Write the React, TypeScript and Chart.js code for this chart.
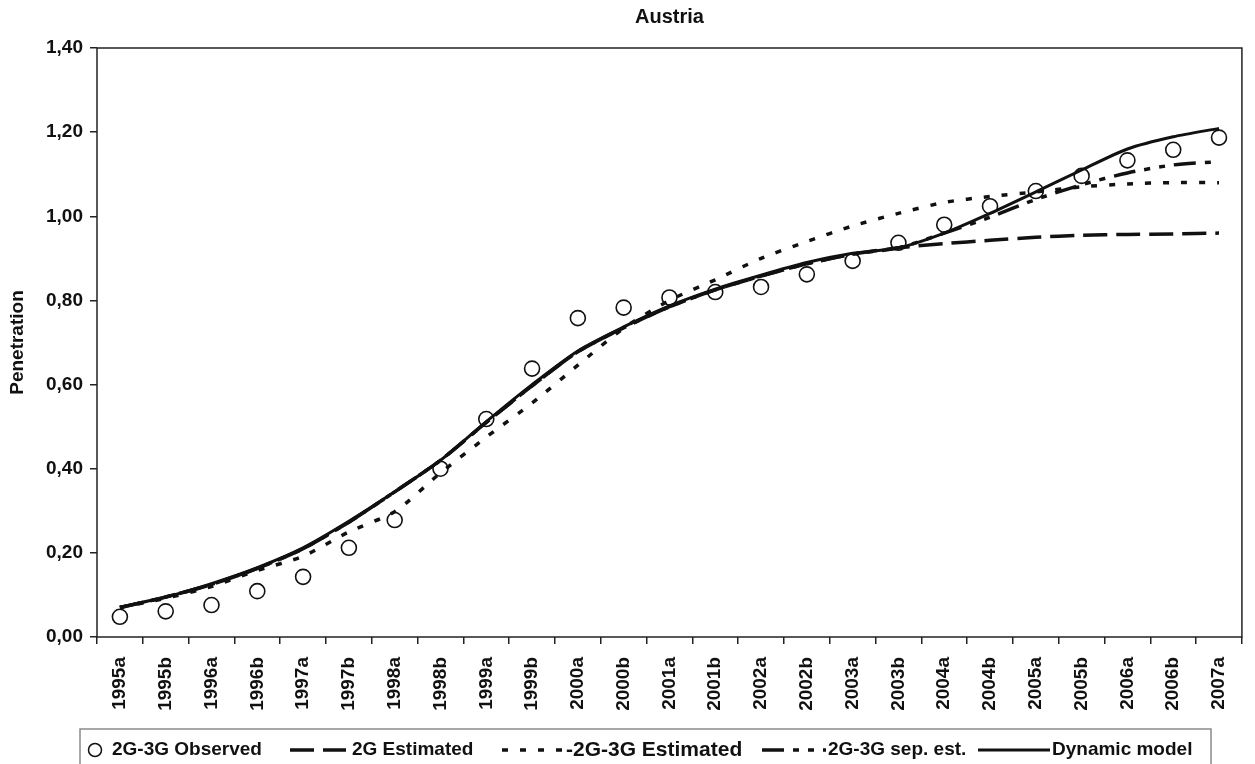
import { useEffect, useRef } from "react";
import { Chart, registerables } from "chart.js";

Chart.register(...registerables);

const categories = [
  "1995a", "1995b", "1996a", "1996b", "1997a", "1997b", "1998a", "1998b",
  "1999a", "1999b", "2000a", "2000b", "2001a", "2001b", "2002a", "2002b",
  "2003a", "2003b", "2004a", "2004b", "2005a", "2005b", "2006a", "2006b", "2007a",
];

const observed = [
  0.048, 0.061, 0.076, 0.109, 0.143, 0.212, 0.278, 0.4, 0.518, 0.638, 0.758, 0.783,
  0.807, 0.82, 0.832, 0.862, 0.894, 0.937, 0.98, 1.024, 1.06, 1.096, 1.133, 1.158, 1.187,
];

const estimated2G = [
  0.07, 0.095, 0.125, 0.163, 0.21, 0.273, 0.345, 0.42, 0.51, 0.597, 0.678, 0.735,
  0.785, 0.825, 0.858, 0.887, 0.91, 0.925, 0.935, 0.943, 0.95, 0.955, 0.957, 0.958, 0.96,
];

const estimated2G3G = [
  0.07, 0.092, 0.12, 0.158, 0.192, 0.25, 0.298, 0.39, 0.475, 0.556, 0.646, 0.734,
  0.8, 0.849, 0.9, 0.94, 0.977, 1.007, 1.033, 1.047, 1.058, 1.07, 1.077, 1.08, 1.08,
];

const sepEstimated = [
  0.07, 0.095, 0.125, 0.163, 0.21, 0.273, 0.345, 0.42, 0.51, 0.597, 0.678, 0.735,
  0.785, 0.825, 0.858, 0.887, 0.91, 0.925, 0.96, 0.998, 1.04, 1.075, 1.103, 1.122, 1.13,
];

const dynamicModel = [
  0.071, 0.095, 0.127, 0.165, 0.212, 0.275, 0.345, 0.42, 0.512, 0.6, 0.68, 0.737,
  0.787, 0.827, 0.86, 0.89, 0.912, 0.925, 0.96, 1.007, 1.058, 1.11, 1.16, 1.189, 1.209,
];

const yTickLabels = ["0,00", "0,20", "0,40", "0,60", "0,80", "1,00", "1,20", "1,40"];

const chartTitle = "Austria";
const yAxisTitle = "Penetration";
const seriesNames = [
  "2G-3G Observed",
  "2G Estimated",
  "-2G-3G Estimated",
  "2G-3G sep. est.",
  "Dynamic model",
];

const FONT = "'Liberation Sans', Arial, Helvetica, sans-serif";
const INK = "#111111";

const DASH_2G = [24, 9];
const DASH_2G3G = [6, 12];
const DASH_SEP = [22, 9, 6, 9, 6, 9];

export default function App() {
  const canvasRef = useRef<HTMLCanvasElement | null>(null);

  useEffect(() => {
    const canvas = canvasRef.current;
    if (!canvas) return;

    const framePlugin = {
      id: "frameAndLegend",
      afterDraw(chart: any) {
        const { ctx, chartArea } = chart;
        const { left, right, top, bottom } = chartArea;
        ctx.save();
        ctx.strokeStyle = "#222";
        ctx.lineWidth = 1.5;
        ctx.setLineDash([]);
        ctx.strokeRect(left, top, right - left, bottom - top);

        ctx.fillStyle = INK;
        ctx.font = `bold 20px ${FONT}`;
        ctx.textAlign = "center";
        ctx.textBaseline = "middle";
        ctx.fillText(chartTitle, (left + right) / 2, 17);

        ctx.strokeStyle = "#8a8a8a";
        ctx.lineWidth = 1.5;
        ctx.strokeRect(80, 729, 1131, 45);

        const cy = 750;
        ctx.textAlign = "left";
        ctx.strokeStyle = INK;
        ctx.fillStyle = INK;

        ctx.lineWidth = 1.5;
        ctx.beginPath();
        ctx.arc(95, cy, 6.5, 0, Math.PI * 2);
        ctx.stroke();
        ctx.font = `bold 19px ${FONT}`;
        ctx.fillText(seriesNames[0], 112, cy);

        const seg = (x1: number, x2: number, dash: number[], w: number) => {
          ctx.save();
          ctx.lineWidth = w;
          ctx.setLineDash(dash);
          ctx.beginPath();
          ctx.moveTo(x1, cy);
          ctx.lineTo(x2, cy);
          ctx.stroke();
          ctx.restore();
        };

        seg(290, 346, DASH_2G, 3.5);
        ctx.font = `bold 19px ${FONT}`;
        ctx.fillText(seriesNames[1], 352, cy);

        seg(502, 563, DASH_2G3G, 3.5);
        ctx.font = `bold 21px ${FONT}`;
        ctx.fillText(seriesNames[2], 566, cy);

        seg(762, 826, DASH_SEP, 3.5);
        ctx.font = `bold 19px ${FONT}`;
        ctx.fillText(seriesNames[3], 828, cy);

        seg(978, 1050, [], 3);
        ctx.fillText(seriesNames[4], 1052, cy);

        ctx.restore();
      },
    };

    const lineCommon = {
      pointRadius: 0,
      borderColor: INK,
      backgroundColor: INK,
      fill: false,
      tension: 0.25,
      borderCapStyle: "butt" as const,
    };

    const chart = new Chart(canvas, {
      type: "line",
      data: {
        labels: categories,
        datasets: [
          {
            label: seriesNames[0],
            data: observed,
            showLine: false,
            pointStyle: "circle",
            pointRadius: 7.5,
            pointBorderWidth: 1.6,
            pointBorderColor: INK,
            pointBackgroundColor: "rgba(0,0,0,0)",
            borderColor: INK,
          },
          {
            ...lineCommon,
            label: seriesNames[1],
            data: estimated2G,
            borderWidth: 3.5,
            borderDash: DASH_2G,
          },
          {
            ...lineCommon,
            label: seriesNames[2],
            data: estimated2G3G,
            borderWidth: 3.5,
            borderDash: DASH_2G3G,
          },
          {
            ...lineCommon,
            label: seriesNames[3],
            data: sepEstimated,
            borderWidth: 3.5,
            borderDash: DASH_SEP,
          },
          {
            ...lineCommon,
            label: seriesNames[4],
            data: dynamicModel,
            borderWidth: 3,
          },
        ],
      },
      options: {
        responsive: false,
        animation: false,
        devicePixelRatio: 1,
        layout: { padding: { top: 48, right: 9, bottom: 35, left: 0 } },
        plugins: {
          legend: { display: false },
          title: { display: false },
          tooltip: { enabled: false },
        },
        scales: {
          x: {
            type: "category",
            offset: true,
            grid: {
              offset: true,
              drawOnChartArea: false,
              drawTicks: true,
              tickLength: 7,
              color: "#222",
              lineWidth: 1.5,
            },
            border: { display: false },
            ticks: {
              color: INK,
              font: { family: FONT, size: 19, weight: "bold" },
              minRotation: 90,
              maxRotation: 90,
              autoSkip: false,
              padding: 13,
            },
            afterFit(scale: any) {
              scale.height = 92;
            },
          },
          y: {
            min: 0,
            max: 1.4,
            grid: {
              drawOnChartArea: false,
              drawTicks: true,
              tickLength: 7,
              color: "#222",
              lineWidth: 1.5,
            },
            border: { display: false },
            ticks: {
              stepSize: 0.2,
              color: INK,
              font: { family: FONT, size: 19, weight: "bold" },
              padding: 7,
              callback: (_v: any, i: number) => yTickLabels[i],
            },
            title: {
              display: true,
              text: yAxisTitle,
              color: INK,
              font: { family: FONT, size: 19, weight: "bold" },
              padding: { top: 6, bottom: 0 },
            },
            afterFit(scale: any) {
              scale.width = 97;
            },
          },
        },
      },
      plugins: [framePlugin],
    });

    return () => {
      chart.destroy();
    };
  }, []);

  return (
    <div style={{ position: "fixed", left: 0, top: 0, width: 1255, height: 764, background: "#fff" }}>
      <canvas ref={canvasRef} width={1255} height={764} style={{ display: "block" }} />
    </div>
  );
}
